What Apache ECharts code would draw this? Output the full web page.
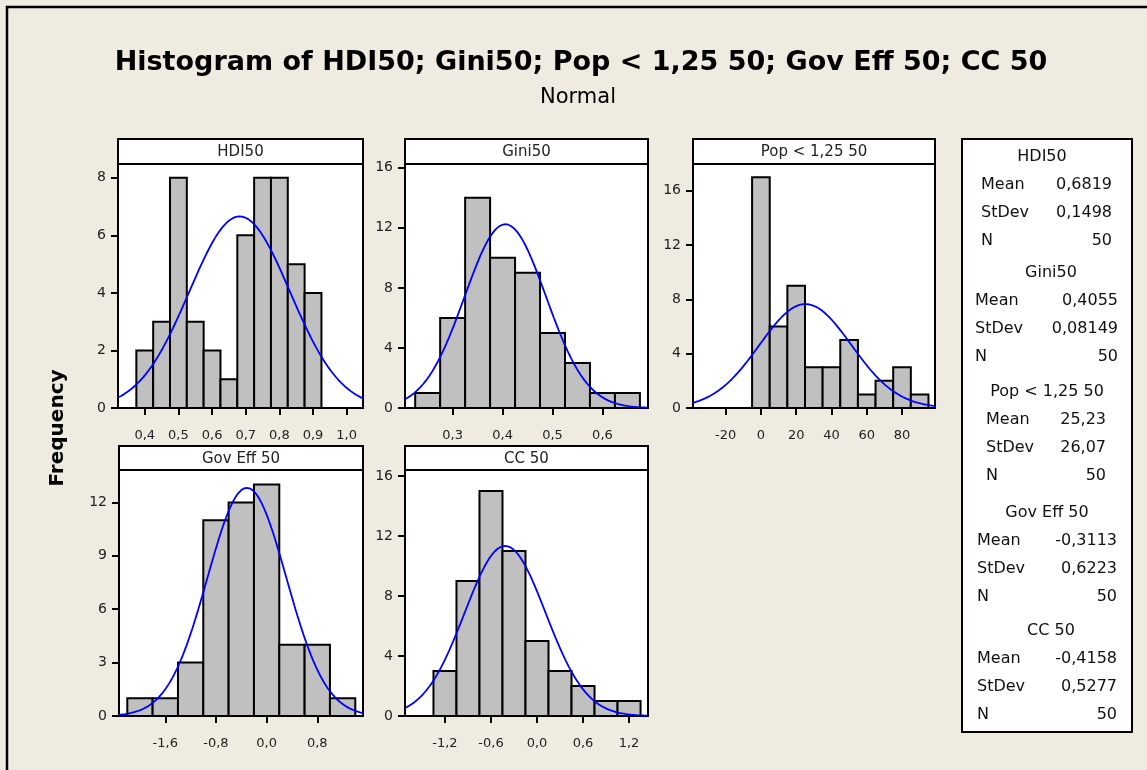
<!DOCTYPE html>
<html>
<head>
<meta charset="utf-8">
<script src="https://cdn.jsdelivr.net/npm/echarts@6/dist/echarts.min.js"></script>
<style>
  html, body { margin: 0; padding: 0; background: #efebe1; }
  #chart { width: 1147px; height: 770px; }
</style>
</head>
<body>
<div id="chart"></div>
<script>
// panel data
const panelNames = ['HDI50', 'Gini50', 'Pop < 1,25 50', 'Gov Eff 50', 'CC 50'];
const binWidths = [0.05, 0.05, 10, 0.4, 0.3];
const binCenters = [
  [0.40, 0.45, 0.50, 0.55, 0.60, 0.65, 0.70, 0.75, 0.80, 0.85, 0.90],
  [0.25, 0.30, 0.35, 0.40, 0.45, 0.50, 0.55, 0.60, 0.65],
  [0, 10, 20, 30, 40, 50, 60, 70, 80, 90],
  [-2.0, -1.6, -1.2, -0.8, -0.4, 0.0, 0.4, 0.8, 1.2],
  [-1.2, -0.9, -0.6, -0.3, 0.0, 0.3, 0.6, 0.9, 1.2]
];
const binCounts = [
  [2, 3, 8, 3, 2, 1, 6, 8, 8, 5, 4],
  [1, 6, 14, 10, 9, 5, 3, 1, 1],
  [17, 6, 9, 3, 3, 5, 1, 2, 3, 1],
  [1, 1, 3, 11, 12, 13, 4, 4, 1],
  [3, 9, 15, 11, 5, 3, 2, 1, 1]
];
const means = [0.6819, 0.4055, 25.23, -0.3113, -0.4158];
const stdevs = [0.1498, 0.08149, 26.07, 0.6223, 0.5277];
const counts = [50, 50, 50, 50, 50];

// axis ticks
const xTicks = [
  [0.4, 0.5, 0.6, 0.7, 0.8, 0.9, 1.0],
  [0.3, 0.4, 0.5, 0.6],
  [-20, 0, 20, 40, 60, 80],
  [-1.6, -0.8, 0.0, 0.8],
  [-1.2, -0.6, 0.0, 0.6, 1.2]
];
const xDecimals = [1, 1, 0, 1, 1];
const yTicks = [
  [0, 2, 4, 6, 8],
  [0, 4, 8, 12, 16],
  [0, 4, 8, 12, 16],
  [0, 3, 6, 9, 12],
  [0, 4, 8, 12, 16]
];
const xMins = [0.3205, 0.2046, -38.5, -2.331, -1.721];
const xMaxs = [1.0485, 0.6912, 98.7, 1.522, 1.447];
const yMaxs = [8.48, 16.25, 17.97, 13.82, 16.4];

// layout of the panels (pixels)
const boxes = [
  { l: 118, r: 363, t: 164, b: 408, h: 139 },
  { l: 405, r: 648, t: 164, b: 408, h: 139 },
  { l: 693, r: 935, t: 164, b: 408, h: 139 },
  { l: 119, r: 363, t: 470, b: 716, h: 446 },
  { l: 405, r: 648, t: 470, b: 716, h: 446 }
];

const FONT = '"DejaVu Sans", Verdana, sans-serif';
const fmt = (v, d) => v.toFixed(d).replace('.', ',');
const decs = v => (String(v).split('.')[1] || '').length;

const chart = echarts.init(document.getElementById('chart'));

const grids = [], xAxes = [], yAxes = [], series = [], graphics = [];

// outer frame + titles
graphics.push({ type: 'rect', shape: { x: 7, y: 7, width: 1300, height: 900 }, style: { fill: 'none', stroke: '#000', lineWidth: 2.5 } });
graphics.push({ type: 'text', x: 581, y: 63, style: { text: 'Histogram of ' + panelNames.join('; '), align: 'center', verticalAlign: 'middle', fontFamily: FONT, fontSize: 27, fontWeight: 'bold', fill: '#000' } });
graphics.push({ type: 'text', x: 578, y: 98, style: { text: 'Normal', align: 'center', verticalAlign: 'middle', fontFamily: FONT, fontSize: 21, fill: '#000' } });
graphics.push({ type: 'text', x: 58, y: 428, rotation: Math.PI / 2, style: { text: 'Frequency', align: 'center', verticalAlign: 'middle', fontFamily: FONT, fontSize: 20, fontWeight: 'bold', fill: '#000' } });

panelNames.forEach((name, i) => {
  const b = boxes[i];
  grids.push({
    left: b.l, top: b.t, width: b.r - b.l, height: b.b - b.t,
    show: true, backgroundColor: '#fff', borderColor: '#000', borderWidth: 2
  });
  xAxes.push({
    type: 'value', gridIndex: i, min: xMins[i], max: xMaxs[i],
    axisLine: { show: true, onZero: false, lineStyle: { color: '#000', width: 2 } },
    axisTick: { show: true, length: 7, customValues: xTicks[i], lineStyle: { color: '#000', width: 2 } },
    axisLabel: { customValues: xTicks[i], margin: 21, color: '#222', fontSize: 13, fontFamily: FONT,
      formatter: v => fmt(v, xDecimals[i]) },
    splitLine: { show: false }
  });
  yAxes.push({
    type: 'value', gridIndex: i, min: 0, max: yMaxs[i],
    axisLine: { show: true, onZero: false, lineStyle: { color: '#000', width: 2 } },
    axisTick: { show: true, length: 7, customValues: yTicks[i], lineStyle: { color: '#000', width: 2 } },
    axisLabel: { customValues: yTicks[i], margin: 12, color: '#222', fontSize: 14, fontFamily: FONT },
    splitLine: { show: false }
  });

  const bw = binWidths[i];
  series.push({
    type: 'custom', xAxisIndex: i, yAxisIndex: i,
    data: binCenters[i].map((c, k) => [c, binCounts[i][k]]),
    renderItem: (params, api) => {
      const c = api.value(0), v = api.value(1);
      const p0 = api.coord([c - bw / 2, v]);
      const p1 = api.coord([c + bw / 2, 0]);
      return {
        type: 'rect',
        shape: { x: p0[0], y: p0[1], width: p1[0] - p0[0], height: p1[1] - p0[1] },
        style: { fill: '#c0c0c0', stroke: '#000', lineWidth: 2 }
      };
    },
    z: 2
  });

  // fitted normal curve from the stated mean / stdev / N
  const pts = [];
  const steps = 160;
  for (let k = 0; k <= steps; k++) {
    const x = xMins[i] + (xMaxs[i] - xMins[i]) * k / steps;
    const z = (x - means[i]) / stdevs[i];
    pts.push([x, counts[i] * bw / (stdevs[i] * Math.sqrt(2 * Math.PI)) * Math.exp(-0.5 * z * z)]);
  }
  series.push({
    type: 'line', xAxisIndex: i, yAxisIndex: i, data: pts,
    showSymbol: false, smooth: false, silent: true,
    lineStyle: { color: '#0000ff', width: 1.8 }, z: 3
  });

  // header strip
  graphics.push({ type: 'rect', shape: { x: b.l, y: b.h, width: b.r - b.l, height: b.t - b.h }, style: { fill: '#fff', stroke: '#000', lineWidth: 2 } });
  graphics.push({ type: 'text', x: (b.l + b.r) / 2, y: (b.h + b.t) / 2 + 1, style: { text: name, align: 'center', verticalAlign: 'middle', fontFamily: FONT, fontSize: 15, fill: '#222' } });
});

// statistics box on the right
const legendBlocks = [
  { hx: 1042, lx: 981, rx: 1112, y: 157 },
  { hx: 1051, lx: 975, rx: 1118, y: 273 },
  { hx: 1047, lx: 986, rx: 1106, y: 392 },
  { hx: 1047, lx: 977, rx: 1117, y: 513 },
  { hx: 1051, lx: 977, rx: 1117, y: 631 }
];
const rowGap = 28;
graphics.push({ type: 'rect', shape: { x: 962, y: 139, width: 170, height: 593 }, style: { fill: '#fff', stroke: '#000', lineWidth: 2 } });
legendBlocks.forEach((lb, i) => {
  const ts = { fontFamily: FONT, fontSize: 16, fill: '#111', verticalAlign: 'middle' };
  graphics.push({ type: 'text', x: lb.hx, y: lb.y, style: Object.assign({ text: panelNames[i], align: 'center' }, ts) });
  const rows = [['Mean', fmt(means[i], decs(means[i]))],
                ['StDev', fmt(stdevs[i], decs(stdevs[i]))],
                ['N', String(counts[i])]];
  rows.forEach((r, k) => {
    const y = lb.y + rowGap * (k + 1);
    graphics.push({ type: 'text', x: lb.lx, y: y, style: Object.assign({ text: r[0], align: 'left' }, ts) });
    graphics.push({ type: 'text', x: lb.rx, y: y, style: Object.assign({ text: r[1], align: 'right' }, ts) });
  });
});

chart.setOption({
  backgroundColor: '#efebe1',
  animation: false,
  grid: grids,
  xAxis: xAxes,
  yAxis: yAxes,
  series: series,
  graphic: { elements: graphics }
});
</script>
</body>
</html>
